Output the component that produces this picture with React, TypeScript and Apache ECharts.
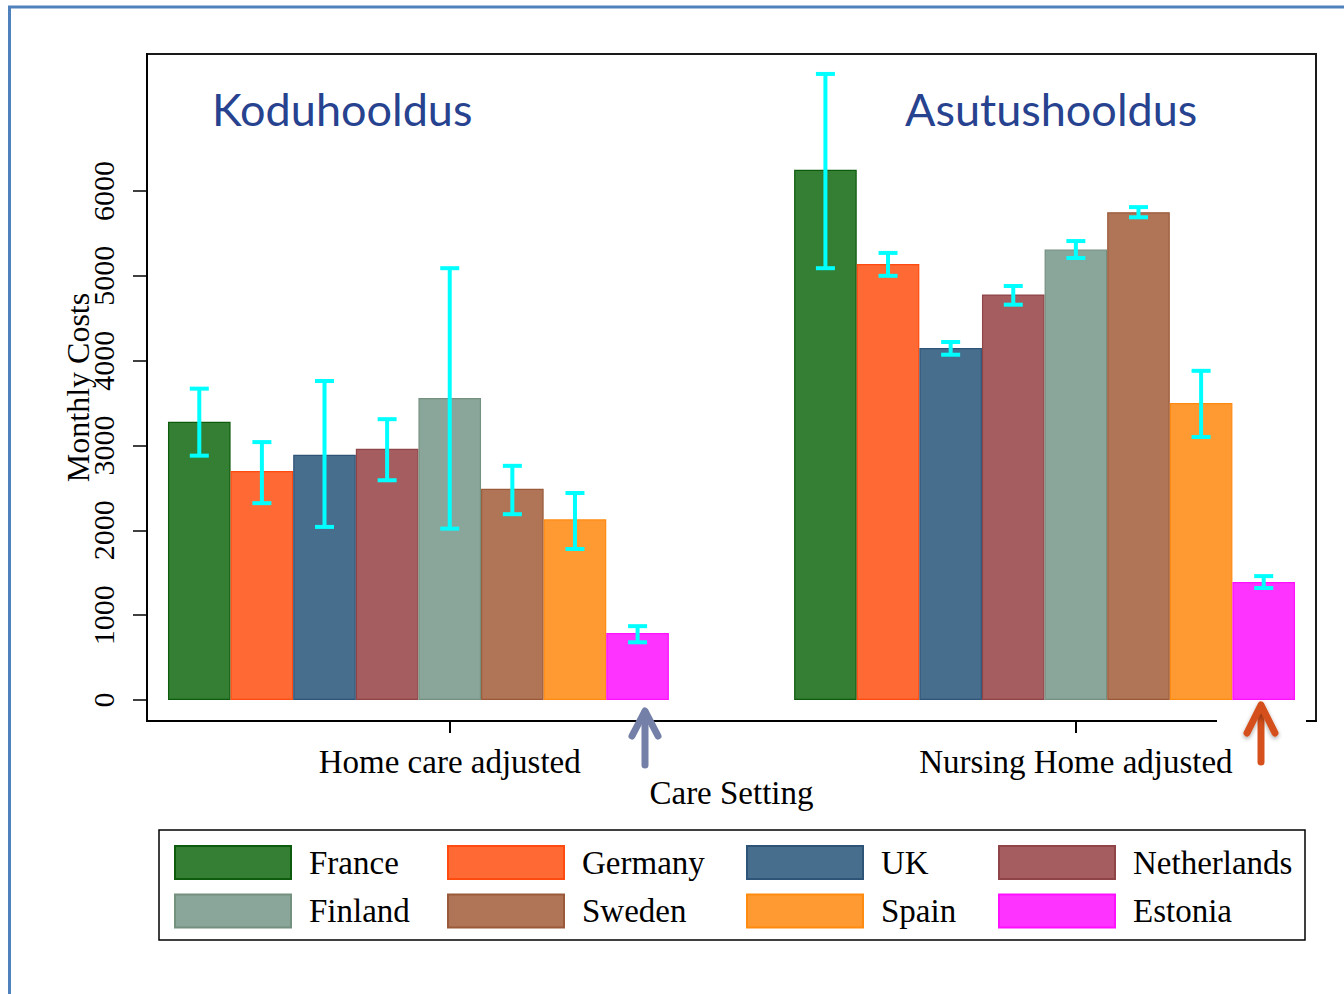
import React, { useEffect, useRef } from "react";
import * as echarts from "echarts";

const countries = ["France", "Germany", "UK", "Netherlands", "Finland", "Sweden", "Spain", "Estonia"];
const colors = ["#347f33", "#ff6933", "#486e8e", "#a65d5f", "#8aa59a", "#b07557", "#ff9a33", "#ff33ff"];
const borderColors = ["#0d5c0d", "#ff4a10", "#2e5478", "#8f4448", "#74907f", "#9a5a3a", "#ff8a10", "#ff10ff"];
const groupLabels = ["Home care adjusted", "Nursing Home adjusted"];
const homeValues = [3280, 2700, 2890, 2960, 3560, 2490, 2130, 790];
const homeLow = [2880, 2320, 2040, 2590, 2020, 2190, 1780, 680];
const homeHigh = [3670, 3040, 3760, 3310, 5090, 2760, 2440, 870];
const nursingValues = [6250, 5140, 4150, 4780, 5310, 5750, 3500, 1390];
const nursingLow = [5090, 5000, 4070, 4660, 5210, 5690, 3100, 1320];
const nursingHigh = [7380, 5270, 4220, 4880, 5410, 5810, 3880, 1460];
const yTicks = [0, 1000, 2000, 3000, 4000, 5000, 6000];
const panelTitles = ["Koduhooldus", "Asutushooldus"];

const GROUP_STEP = 10;
const barPos = (g: number, i: number) => g * GROUP_STEP + i + 0.5;
const groupTick = (g: number) => g * GROUP_STEP + countries.length / 2 + 0.5;

const SERIF = "'Liberation Serif', 'Times New Roman', serif";

export default function App() {
  const ref = useRef<HTMLDivElement>(null);
  useEffect(() => {
    if (!ref.current) return;
    const chart = echarts.init(ref.current, undefined, { renderer: "svg" });
    const groupsVals = [homeValues, nursingValues];
    const groupsLow = [homeLow, nursingLow];
    const groupsHigh = [homeHigh, nursingHigh];

    const barSeries = countries.map((c, i) => ({
      name: c,
      type: "bar",
      barWidth: 62.6,
      barGap: "-100%",
      data: groupsVals.map((vals, g) => [barPos(g, i), vals[i]]),
      itemStyle: { color: colors[i], borderColor: borderColors[i], borderWidth: 1.2 },
      z: 2,
    }));

    const errData: number[][] = [];
    countries.forEach((_, i) => {
      groupsVals.forEach((_v, g) => {
        errData.push([barPos(g, i), groupsLow[g][i], groupsHigh[g][i]]);
      });
    });

    const errSeries = {
      type: "custom",
      name: "ci",
      z: 5,
      data: errData,
      renderItem: (params: any, api: any) => {
        const x = api.value(0);
        const lo = api.coord([x, api.value(1)]);
        const hi = api.coord([x, api.value(2)]);
        const hw = 9.5;
        const st = { stroke: "#00ffff", lineWidth: 4 };
        return {
          type: "group",
          children: [
            { type: "line", shape: { x1: lo[0], y1: lo[1], x2: hi[0], y2: hi[1] }, style: st },
            { type: "line", shape: { x1: lo[0] - hw, y1: lo[1], x2: lo[0] + hw, y2: lo[1] }, style: st },
            { type: "line", shape: { x1: hi[0] - hw, y1: hi[1], x2: hi[0] + hw, y2: hi[1] }, style: st },
          ],
        };
      },
    };

    const legendCols = [
      [0, 4],
      [1, 5],
      [2, 6],
      [3, 7],
    ];
    const legendLefts = [174, 447, 746, 998];
    const legends = legendCols.map((col, k) => ({
      show: true,
      orient: "vertical",
      left: legendLefts[k],
      top: 845,
      padding: 0,
      itemGap: 13.5,
      itemWidth: 116,
      itemHeight: 33,
      icon: "rect",
      selectedMode: false,
      data: col.map((i) => countries[i]),
      textStyle: { fontFamily: SERIF, fontSize: 33, color: "#000", padding: [0, 0, 0, 13] },
    }));

    const arrowShadow = { shadowBlur: 4, shadowColor: "rgba(0,0,0,0.35)", shadowOffsetY: 2 };

    chart.setOption({
      animation: false,
      backgroundColor: "#ffffff",
      grid: {
        left: 147,
        top: 54,
        width: 1169,
        height: 667,
        show: true,
        borderColor: "#1a1a1a",
        borderWidth: 2,
        backgroundColor: "transparent",
      },
      xAxis: {
        type: "value",
        min: -0.335,
        max: countries.length + GROUP_STEP + 0.335,
        name: "Care Setting",
        nameLocation: "middle",
        nameGap: 55,
        nameMoveOverlap: false,
        nameTextStyle: { fontFamily: SERIF, fontSize: 33, color: "#000" },
        axisLine: { show: true, onZero: false, lineStyle: { color: "#000", width: 2 } },
        axisTick: {
          show: true,
          length: 12,
          customValues: [groupTick(0), groupTick(1)],
          lineStyle: { color: "#000", width: 2 },
        },
        axisLabel: {
          show: true,
          customValues: [groupTick(0), groupTick(1)],
          formatter: (v: number) => groupLabels[Math.round((v - groupTick(0)) / GROUP_STEP)],
          fontFamily: SERIF,
          fontSize: 33,
          color: "#000",
          margin: 24,
        },
        splitLine: { show: false },
      },
      yAxis: {
        type: "value",
        min: -248,
        max: 7615,
        name: "Monthly Costs",
        nameLocation: "middle",
        nameGap: 53,
        nameMoveOverlap: false,
        nameTextStyle: { fontFamily: SERIF, fontSize: 32, color: "#000" },
        axisLine: { show: true, onZero: false, lineStyle: { color: "#000", width: 2 } },
        axisTick: {
          show: true,
          length: 14,
          customValues: yTicks,
          lineStyle: { color: "#000", width: 1.5 },
        },
        axisLabel: {
          show: true,
          customValues: yTicks,
          formatter: (v: number) => String(v),
          rotate: 90,
          fontFamily: SERIF,
          fontSize: 30,
          color: "#000",
          margin: 29,
        },
        splitLine: { show: false },
      },
      legend: legends,
      series: [...barSeries, errSeries],
      graphic: [
        { type: "line", shape: { x1: 8, y1: 7, x2: 1344, y2: 7 }, style: { stroke: "#4f81bd", lineWidth: 3 }, z: 10 },
        { type: "line", shape: { x1: 9.5, y1: 6, x2: 9.5, y2: 994 }, style: { stroke: "#4f81bd", lineWidth: 3 }, z: 10 },
        {
          type: "text",
          left: 212,
          top: 86,
          style: { text: panelTitles[0], font: "45px Lato, 'Open Sans', sans-serif", fill: "#27428f" },
          z: 10,
        },
        {
          type: "text",
          left: 905,
          top: 86,
          style: { text: panelTitles[1], font: "45px Lato, 'Open Sans', sans-serif", fill: "#27428f" },
          z: 10,
        },
        { type: "rect", shape: { x: 1217, y: 701, width: 89, height: 23 }, style: { fill: "#ffffff" }, z: 8 },
        { type: "rect", shape: { x: 159, y: 830, width: 1146, height: 110 }, style: { fill: "none", stroke: "#000", lineWidth: 1.5 }, z: 10 },
        {
          type: "line",
          shape: { x1: 645, y1: 765, x2: 645, y2: 712 },
          style: { stroke: "#7480a8", lineWidth: 7, lineCap: "round" },
          z: 10,
        },
        {
          type: "polyline",
          shape: { points: [[632, 736], [645, 711], [658, 736]] },
          style: { stroke: "#7480a8", lineWidth: 7, lineCap: "round", lineJoin: "round", fill: "none" },
          z: 10,
        },
        {
          type: "line",
          shape: { x1: 1261, y1: 762, x2: 1261, y2: 707 },
          style: { stroke: "#d5501c", lineWidth: 7, lineCap: "round" },
          z: 10,
        },
        {
          type: "polyline",
          shape: { points: [[1247, 733], [1261, 705], [1275, 733]] },
          style: { stroke: "#d5501c", lineWidth: 7, lineCap: "round", lineJoin: "round", fill: "none", ...arrowShadow },
          z: 10,
        },
      ],
    });
    return () => chart.dispose();
  }, []);
  return <div ref={ref} style={{ position: "fixed", left: 0, top: 0, width: 1344, height: 994 }} />;
}
